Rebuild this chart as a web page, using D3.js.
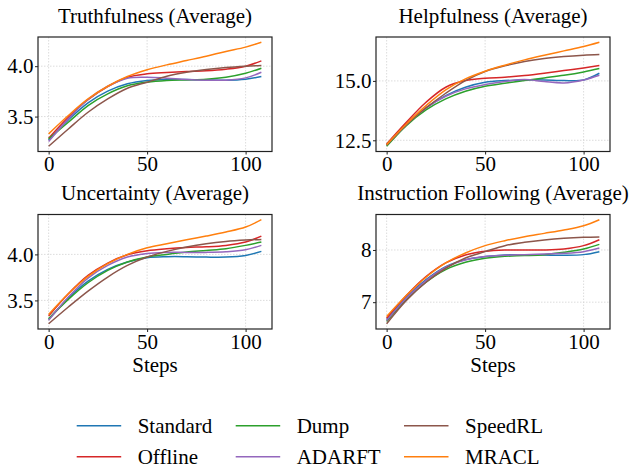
<!DOCTYPE html>
<html>
<head>
<meta charset="utf-8">
<script src="https://cdn.jsdelivr.net/npm/d3@7"></script>
<style>
  body { margin: 0; background: #fff; }
  svg { font-family: "Liberation Serif", "Times New Roman", serif; }
  .grid line { stroke: #d3d3d3; stroke-width: 0.8; stroke-dasharray: 1.5,1.5; }
  .tick text { font-size: 21px; fill: #000; }
  .tick line { stroke: #222; }
</style>
</head>
<body>
<script>
var steps = [0, 10, 20, 30, 40, 50, 60, 70, 80, 90, 100, 108];
var methods = ["Standard", "Offline", "Dump", "ADARFT", "SpeedRL", "MRACL"];
var colors = ["#1f77b4", "#d62728", "#2ca02c", "#9467bd", "#8c564b", "#ff7f0e"];
var titles = ["Truthfulness (Average)", "Helpfulness (Average)",
              "Uncertainty (Average)", "Instruction Following (Average)"];
var xTicks = [0, 50, 100];
var yTicks = [[3.5, 4.0], [12.5, 15.0], [3.5, 4.0], [7, 8]];
var yFormats = [".1f", ".1f", ".1f", "d"];

// one row per method, same order as `methods`
var truthfulness = [
  [3.268, 3.467, 3.636, 3.752, 3.825, 3.858, 3.868, 3.868, 3.864, 3.861, 3.871, 3.897],
  [3.285, 3.493, 3.669, 3.798, 3.891, 3.924, 3.937, 3.947, 3.954, 3.970, 4.000, 4.053],
  [3.278, 3.444, 3.609, 3.725, 3.805, 3.841, 3.858, 3.864, 3.871, 3.891, 3.930, 3.980],
  [3.252, 3.477, 3.669, 3.801, 3.881, 3.891, 3.881, 3.868, 3.861, 3.861, 3.884, 3.940],
  [3.205, 3.377, 3.543, 3.675, 3.781, 3.841, 3.901, 3.940, 3.967, 3.987, 4.000, 4.007],
  [3.328, 3.510, 3.675, 3.801, 3.897, 3.964, 4.013, 4.056, 4.099, 4.146, 4.189, 4.238]
];
var helpfulness = [
  [12.303, 13.160, 13.862, 14.382, 14.733, 14.944, 15.014, 15.042, 15.042, 15.014, 15.042, 15.323],
  [12.345, 13.258, 14.101, 14.733, 15.014, 15.112, 15.154, 15.225, 15.323, 15.435, 15.548, 15.646],
  [12.247, 13.118, 13.778, 14.242, 14.565, 14.775, 14.902, 15.014, 15.126, 15.239, 15.379, 15.520],
  [12.303, 13.160, 13.862, 14.354, 14.663, 14.846, 14.972, 15.056, 14.972, 14.916, 15.042, 15.239],
  [12.303, 13.160, 13.862, 14.480, 15.014, 15.393, 15.632, 15.815, 15.941, 16.025, 16.081, 16.110],
  [12.317, 13.188, 13.961, 14.621, 15.084, 15.407, 15.660, 15.885, 16.081, 16.264, 16.447, 16.629]
];
var uncertainty = [
  [3.293, 3.525, 3.710, 3.837, 3.917, 3.964, 3.975, 3.975, 3.971, 3.971, 3.989, 4.033],
  [3.330, 3.572, 3.772, 3.906, 3.996, 4.040, 4.062, 4.076, 4.083, 4.098, 4.134, 4.199],
  [3.301, 3.511, 3.692, 3.826, 3.917, 3.971, 4.000, 4.025, 4.043, 4.062, 4.098, 4.134],
  [3.283, 3.536, 3.743, 3.880, 3.971, 4.011, 4.022, 4.022, 4.022, 4.029, 4.051, 4.098],
  [3.246, 3.428, 3.601, 3.754, 3.880, 3.971, 4.033, 4.080, 4.116, 4.141, 4.156, 4.163],
  [3.348, 3.572, 3.761, 3.899, 4.000, 4.072, 4.116, 4.159, 4.199, 4.243, 4.297, 4.377]
];
var instruction = [
  [6.669, 7.096, 7.433, 7.682, 7.815, 7.873, 7.904, 7.911, 7.904, 7.898, 7.911, 7.968],
  [6.694, 7.127, 7.490, 7.752, 7.904, 7.975, 8.000, 8.000, 8.000, 8.019, 8.083, 8.197],
  [6.631, 7.045, 7.382, 7.624, 7.764, 7.841, 7.879, 7.892, 7.911, 7.955, 8.019, 8.108],
  [6.650, 7.076, 7.414, 7.669, 7.809, 7.873, 7.898, 7.911, 7.924, 7.936, 7.968, 8.038],
  [6.586, 7.032, 7.382, 7.650, 7.847, 7.968, 8.083, 8.146, 8.191, 8.223, 8.242, 8.248],
  [6.726, 7.127, 7.478, 7.752, 7.943, 8.083, 8.178, 8.255, 8.318, 8.382, 8.465, 8.580]
];

var panelData = [truthfulness, helpfulness, uncertainty, instruction];

var width = 633, height = 469;
var colLeft = [38, 376], rowTop = [37, 214.5];
var pw = 234, ph = 114.5;
var serif = '"Liberation Serif", "Times New Roman", serif';

var svg = d3.select("body").append("svg")
    .attr("width", width)
    .attr("height", height);

// matplotlib style 5% margins
function padded(lo, hi) {
  var m = (hi - lo) * 0.05;
  return [lo - m, hi + m];
}

panelData.forEach(function(series, p) {
  var left = colLeft[p % 2], top = rowTop[Math.floor(p / 2)];
  var g = svg.append("g").attr("transform", "translate(" + left + "," + top + ")");

  var x = d3.scaleLinear().domain(padded(d3.min(steps), d3.max(steps))).range([0, pw]);
  var all = d3.merge(series);
  var y = d3.scaleLinear().domain(padded(d3.min(all), d3.max(all))).range([ph, 0]);

  // dotted grid
  var grid = g.append("g").attr("class", "grid");
  grid.selectAll(".gx").data(xTicks).enter().append("line")
      .attr("x1", function(d) { return x(d); }).attr("x2", function(d) { return x(d); })
      .attr("y1", 0).attr("y2", ph);
  grid.selectAll(".gy").data(yTicks[p]).enter().append("line")
      .attr("y1", function(d) { return y(d); }).attr("y2", function(d) { return y(d); })
      .attr("x1", 0).attr("x2", pw);

  var line = d3.line()
      .x(function(d, i) { return x(steps[i]); })
      .y(function(d) { return y(d); })
      .curve(d3.curveCatmullRom.alpha(0.5));

  g.selectAll(".series").data(series).enter().append("path")
      .attr("fill", "none")
      .attr("stroke", function(d, i) { return colors[i]; })
      .attr("stroke-width", 1.5)
      .attr("d", line);

  // axes
  var xa = g.append("g").attr("transform", "translate(0," + ph + ")")
      .call(d3.axisBottom(x).tickValues(xTicks).tickSize(3).tickPadding(2));
  xa.attr("font-family", serif);
  xa.select(".domain").remove();
  xa.selectAll("text").attr("dy", 0).attr("y", 19.5).attr("font-family", serif);

  var ya = g.append("g")
      .call(d3.axisLeft(y).tickValues(yTicks[p]).tickFormat(d3.format(yFormats[p]))
        .tickSize(3).tickPadding(1.5));
  ya.attr("font-family", serif);
  ya.select(".domain").remove();
  ya.selectAll("text").attr("font-family", serif);

  g.append("rect")
      .attr("width", pw).attr("height", ph)
      .attr("fill", "none").attr("stroke", "#222").attr("stroke-width", 1.2);

  g.append("text")
      .attr("x", pw / 2).attr("y", -14.5)
      .attr("text-anchor", "middle")
      .attr("font-size", 21)
      .text(titles[p]);

  if (p >= 2) {
    g.append("text")
        .attr("x", pw / 2).attr("y", ph + 42.5)
        .attr("text-anchor", "middle")
        .attr("font-size", 21)
        .text("Steps");
  }
});

// legend, filled column by column
var legX = [76.7, 235.7, 404], legY = [425.7, 456.7];
var leg = svg.append("g");
methods.forEach(function(m, i) {
  var lx = legX[Math.floor(i / 2)], ly = legY[i % 2];
  leg.append("line")
      .attr("x1", lx).attr("x2", lx + 44.5)
      .attr("y1", ly).attr("y2", ly)
      .attr("stroke", colors[i]).attr("stroke-width", 1.5);
  leg.append("text")
      .attr("x", lx + 61).attr("y", ly)
      .attr("dy", "0.35em")
      .attr("font-size", 21)
      .text(m);
});
</script>
</body>
</html>
